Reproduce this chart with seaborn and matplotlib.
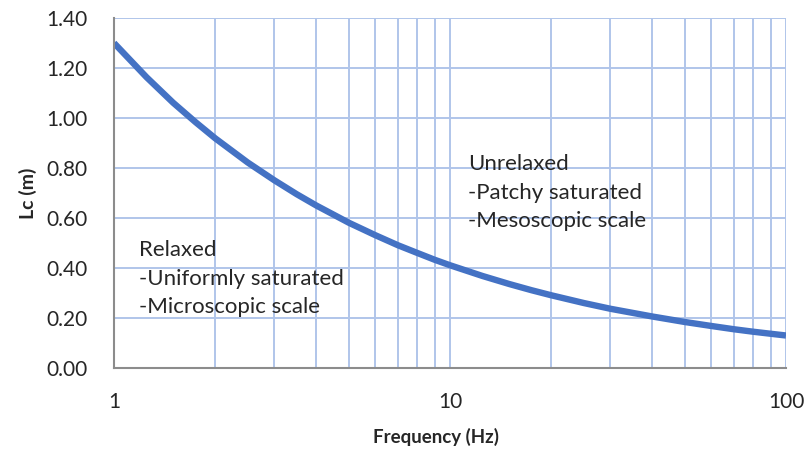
import numpy as np
import pandas as pd
import matplotlib
matplotlib.use("Agg")
import matplotlib.pyplot as plt
import seaborn as sns
from matplotlib.ticker import FixedLocator, NullFormatter, FixedFormatter

# Characteristic length vs. frequency
frequency_hz = [1, 1.25, 1.5, 1.75, 2, 2.5, 3, 3.5, 4, 5, 6, 7, 8, 9, 10,
                12.5, 15, 17.5, 20, 25, 30, 40, 50, 60, 70, 80, 90, 100]
lc_m = [1.30, 1.163, 1.061, 0.983, 0.919, 0.822, 0.751, 0.695, 0.650, 0.581,
        0.531, 0.491, 0.460, 0.433, 0.411, 0.368, 0.336, 0.311, 0.291, 0.260,
        0.237, 0.206, 0.184, 0.168, 0.155, 0.145, 0.137, 0.130]

y_ticks = [0.00, 0.20, 0.40, 0.60, 0.80, 1.00, 1.20, 1.40]
x_major = [1, 10, 100]

df = pd.DataFrame({"Frequency (Hz)": frequency_hz, "Lc (m)": lc_m})

sns.set_style("white")
plt.rcParams["font.family"] = ["Lato", "DejaVu Sans"]

fig = plt.figure(figsize=(8.08, 4.55), dpi=100)
ax = fig.add_axes([114 / 808, 1 - 368 / 455, (786 - 114) / 808, (368 - 18) / 455])

sns.lineplot(data=df, x="Frequency (Hz)", y="Lc (m)", ax=ax, color="#4472c4",
             linewidth=4.6, solid_capstyle="butt", solid_joinstyle="round", zorder=3)

ax.set_xscale("log")
ax.set_xlim(1, 100)
ax.set_ylim(0, 1.40)

grid_color = "#b0c5ea"
minor_x = [m * d for d in (1, 10) for m in range(2, 10)]
ax.xaxis.set_major_locator(FixedLocator(x_major))
ax.xaxis.set_major_formatter(FixedFormatter([str(v) for v in x_major]))
ax.xaxis.set_minor_locator(FixedLocator(minor_x))
ax.xaxis.set_minor_formatter(NullFormatter())
ax.set_yticks(y_ticks)
ax.set_yticklabels([f"{v:.2f}" for v in y_ticks])

ax.grid(True, which="both", axis="x", color=grid_color, linewidth=1.4, zorder=0)
ax.grid(True, which="major", axis="y", color=grid_color, linewidth=1.4, zorder=0)

for side in ("top", "right"):
    ax.spines[side].set_visible(False)
axis_gray = "#8c8c8c"
for side in ("left", "bottom"):
    ax.spines[side].set_color(axis_gray)
    ax.spines[side].set_linewidth(1.5)
    ax.spines[side].set_zorder(4)

ax.tick_params(axis="x", which="both", direction="out", length=5, width=1.3,
               color=axis_gray, labelsize=15, pad=12, labelcolor="#262626")
ax.tick_params(axis="y", which="both", length=0, labelsize=15, pad=19,
               labelcolor="#262626")

ax.set_xlabel("Frequency (Hz)", fontsize=13.5, fontweight="bold", color="#262626")
ax.set_ylabel("Lc (m)", fontsize=14, fontweight="bold", color="#262626")
ax.xaxis.set_label_coords((436 - 114) / 672, -(428 - 368) / 350)
ax.yaxis.set_label_coords(-(114 - 37) / 672, 0.5)

text_kw = dict(fontsize=16, color="#262626", linespacing=1.52, va="top", ha="left",
               zorder=5)
ax.text(11.3, 0.855, "Unrelaxed\n-Patchy saturated\n-Mesoscopic scale", **text_kw)
ax.text(1.187, 0.51, "Relaxed\n-Uniformly saturated\n-Microscopic scale", **text_kw)

fig.savefig("out.png", dpi=100)
